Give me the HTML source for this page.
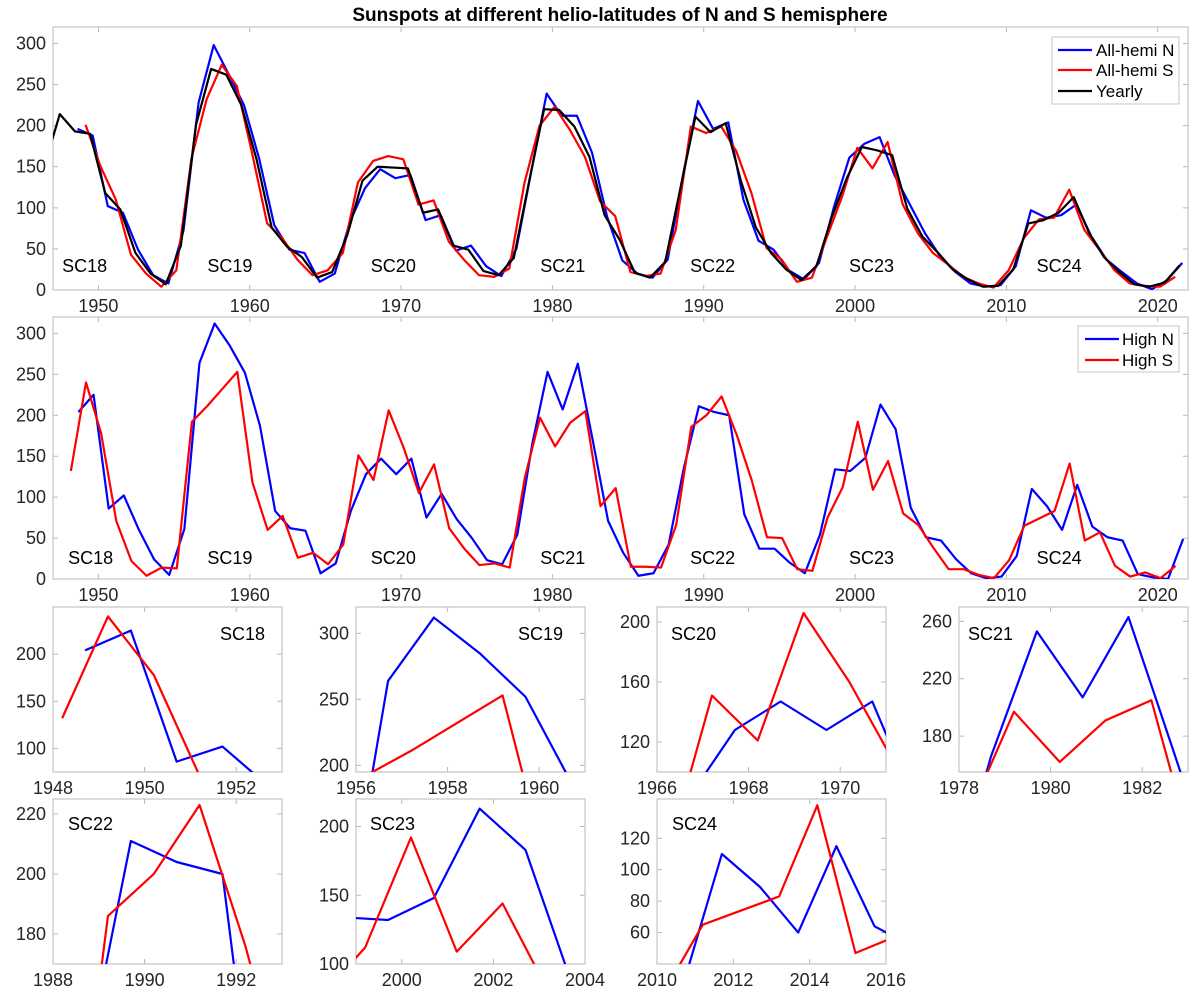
<!DOCTYPE html>
<html><head><meta charset="utf-8"><style>
html,body{margin:0;padding:0;background:#fff;width:1200px;height:1002px;overflow:hidden;}
svg{display:block;font-family:"Liberation Sans",Arial,sans-serif;}
</style></head><body>
<svg id="fig" width="1200" height="1002" viewBox="0 0 1200 1002" xmlns="http://www.w3.org/2000/svg">
<rect width="1200" height="1002" fill="#fff"/>
<text x="620" y="21" text-anchor="middle" font-size="19" font-weight="bold" fill="#000">Sunspots at different helio-latitudes of N and S hemisphere</text>
</svg>
<script>
// ---- data ----
const allNStart = 1948;
const allN = [196,188,102,94,49,18,8,72,228,298, 262,225,160,79,49,45,10,20,83,124, 147,136,140,85,91,48,54,29,17,50, 146,239,212,212,167,89,36,20,15,37, 139,230,196,204,110,60,49,24,13,33, 102,161,178,186,139,104,69,41,22,8, 4,6,29,97,88,91,104,65,37,22, 8,1,12,33];
const allSStart = 1949;
const allS = [201,150,110,43,20,4,24,160,232,274, 248,167,81,63,37,18,24,45,131,157, 163,159,104,109,59,37,18,16,26,130, 200,223,195,162,108,90,22,17,20,73, 199,191,199,169,118,51,37,10,15,65, 114,173,148,180,104,69,45,31,16,8, 3,24,63,86,88,122,73,49,24,8, 5,4,16];
const yearlyStart = 1946;
const yearly = [152,214,193,190,118,98,45,20,7,54, 201,269,262,225,159,76,53,40,15,22, 67,133,150,149,148,94,98,54,49,23, 18,39,131,220,219,199,162,91,61,21, 15,34,123,211,192,203,133,76,45,25, 12,29,88,136,174,170,164,99,65,46, 25,13,4,5,25,81,85,94,113,70, 40,22,7,4,9,30];
const highNStart = 1948;
const highN = [204,225,86,102,60,24,5,61,264,312, 285,252,187,83,62,59,7,19,83,128, 147,128,147,75,104,73,50,23,18,54, 166,253,207,263,168,71,32,4,7,42, 135,211,204,200,79,37,37,20,7,54, 134,132,148,213,183,87,51,47,24,7, 1,3,28,110,89,60,115,64,51,47, 6,2,0,49];
const highSStart = 1948;
const highS = [132,240,178,71,22,4,14,13,192,211, 232,253,118,60,77,26,32,18,42,151, 121,206,160,105,140,62,37,17,19,14, 124,197,162,191,205,89,111,15,15,14, 66,186,200,223,176,120,51,50,12,10, 75,112,192,109,144,80,66,38,12,12, 5,1,23,65,74,83,141,47,57,16, 3,8,1,16];
const mainXTicks = [1950,1960,1970,1980,1990,2000,2010,2020];
const mainYTicks = [0,50,100,150,200,250,300];
const cycleNames = ['SC18','SC19','SC20','SC21','SC22','SC23','SC24'];
const cycleLabelYears = [1947.6,1957.2,1968.0,1979.2,1989.1,1999.6,2012.0];
const cycleXlim = [[1948,1953],[1956,1961],[1966,1971],[1978,1983],[1988,1993],[1999,2004],[2010,2016]];
const cycleYlim = [[75,250],[195,320],[100,210],[155,270],[170,225],[100,220],[40,145]];
const cycleXTicks = [[1948,1950,1952],[1956,1958,1960],[1966,1968,1970],[1978,1980,1982],[1988,1990,1992],[2000,2002,2004],[2010,2012,2014,2016]];
const cycleYTicks = [[100,150,200],[200,250,300],[120,160,200],[180,220,260],[180,200,220],[100,150,200],[60,80,100,120]];

const NS='http://www.w3.org/2000/svg';
const svg=document.getElementById('fig');
let clipId=0;
function el(tag,attrs,parent){const e=document.createElementNS(NS,tag);for(const k in attrs)e.setAttribute(k,attrs[k]);(parent||svg).appendChild(e);return e;}

function makeAxes(name,L,T,W,H,xlim,ylim,xt,yt,fs){
  const g=el('g',{});
  
  
  const sx=v=>L+(v-xlim[0])/(xlim[1]-xlim[0])*W;
  const sy=v=>T+H-(v-ylim[0])/(ylim[1]-ylim[0])*H;
  const id='c'+(clipId++);
  const cp=el('clipPath',{id:id},g);el('rect',{x:L,y:T,width:W,height:H},cp);
  xt.forEach(t=>{
    const x=sx(t);
    const tk=el('path',{d:`M${x},${T+H}v-5M${x},${T}v5`,stroke:'#b8b8b8','stroke-width':1},g);
    
    
    const lb=el('text',{x:x,y:T+H+fs+4,'text-anchor':'middle','font-size':fs,fill:'#262626'},g);
    lb.textContent=t;
    
    
  });
  yt.forEach(t=>{
    const y=sy(t);
    const tk=el('path',{d:`M${L},${y}h5M${L+W},${y}h-5`,stroke:'#b8b8b8','stroke-width':1},g);
    
    
    const lb=el('text',{x:L-7,y:y+6,'text-anchor':'end','font-size':fs,fill:'#262626'},g);
    lb.textContent=t;
    
    
  });
  const box=el('rect',{x:L,y:T,width:W,height:H,fill:'none',stroke:'#c4c4c4','stroke-width':1.2},g);
  
  
  const lines=el('g',{'clip-path':`url(#${id})`},g);
  return {g,sx,sy,lines};
}
function series(ax,name,start,vals,off,color){
  const d=vals.map((v,i)=>(i?'L':'M')+ax.sx(start+i+off).toFixed(2)+','+ax.sy(v).toFixed(2)).join('');
  const p=el('path',{d:d,fill:'none',stroke:color,'stroke-width':2.2,'stroke-linejoin':'round'},ax.lines);
  
  
}
function legend(x,y,w,h,entries,lx,tx,rowY){
  const g=el('g',{});
  
  
  el('rect',{x:x,y:y,width:w,height:h,fill:'#fff',stroke:'#c4c4c4','stroke-width':1},g);
  entries.forEach((e,i)=>{
    const yy=rowY[i];
    const ln=el('line',{x1:lx,x2:lx+34,y1:yy,y2:yy,stroke:e[1],'stroke-width':2.2},g);
    
    
    const t=el('text',{x:tx,y:yy+6,'font-size':17,fill:'#000'},g);
    t.textContent=e[0];
    
    
  });
}

// top panel
const topAx=makeAxes('all-hemi-axes',53,27,1135,263,[1947,2022],[0,320],mainXTicks,mainYTicks,18);
series(topAx,'all-hemi-n-line',allNStart,allN,0.62,'#0000ff');
series(topAx,'all-hemi-s-line',allSStart,allS,0.15,'#ff0000');
series(topAx,'yearly-line',yearlyStart,yearly,0.45,'#000000');
cycleNames.forEach((n,i)=>{
  const t=el('text',{x:topAx.sx(cycleLabelYears[i]),y:272,'font-size':18,fill:'#000'},topAx.g);
  t.textContent=n;
  
  
});
legend(1052,37,127,67,[['All-hemi N','#0000ff'],['All-hemi S','#ff0000'],['Yearly','#000000']],1058,1096,[50,70,91]);

// middle panel
const midAx=makeAxes('high-latitude-axes',53,317,1135,262,[1947,2022],[0,320],mainXTicks,mainYTicks,18);
series(midAx,'high-n-line',highNStart,highN,0.68,'#0000ff');
series(midAx,'high-s-line',highSStart,highS,0.18,'#ff0000');
cycleNames.forEach((n,i)=>{
  const t=el('text',{x:midAx.sx(cycleLabelYears[i])+(i==0?6:0),y:564,'font-size':18,fill:'#000'},midAx.g);
  t.textContent=n;
  
  
});
legend(1078,326,101,46,[['High N','#0000ff'],['High S','#ff0000']],1085,1122,[339,360]);

// small panels
const colL=[53,356,657,959];
const rowT=[607,799];
const labelPos=[[220,633],[518,633],[671,633],[968,633],[68,823],[370,823],[672,823]];
cycleNames.forEach((n,i)=>{
  const c=i%4, r=Math.floor(i/4);
  const ax=makeAxes('panel-'+n.toLowerCase(),colL[c],rowT[r],229,165,cycleXlim[i],cycleYlim[i],cycleXTicks[i],cycleYTicks[i],18);
  series(ax,'high-n-line-'+n.toLowerCase(),highNStart,highN,0.7,'#0000ff');
  series(ax,'high-s-line-'+n.toLowerCase(),highSStart,highS,0.2,'#ff0000');
  const t=el('text',{x:labelPos[i][0],y:labelPos[i][1]+7,'font-size':18,fill:'#000'},ax.g);
  t.textContent=n;
  
  
});
</script>
</body></html>
